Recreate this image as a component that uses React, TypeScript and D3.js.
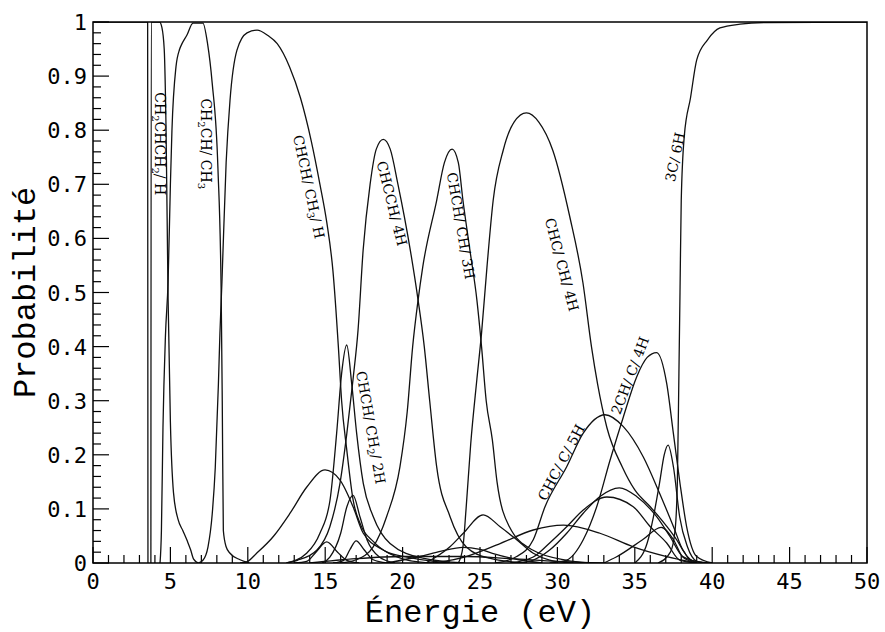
import React from "react";
import * as d3 from "d3";

// ---- Data (energy in eV, probability) ----
const parentC3H6: [number, number][] = [[0, 1], [3.53, 1], [3.55, 0]];
const ch2chch2H: [number, number][] = [[3.74, 0], [3.76, 1], [4.3, 1], [4.45, 0.99], [4.6, 0.95], [4.72, 0.8], [4.85, 0.49], [5.0, 0.26], [5.2, 0.13], [5.5, 0.08], [5.8, 0.06], [6.1, 0.04], [6.3, 0.025], [6.5, 0.007], [6.8, 0]];
const ch2chCh3: [number, number][] = [[4.33, 0], [4.42, 0.06], [4.52, 0.25], [4.68, 0.42], [4.85, 0.52], [5.0, 0.7], [5.1, 0.8], [5.36, 0.917], [5.6, 0.95], [5.75, 0.96], [6.07, 0.976], [6.46, 0.998], [7.1, 0.998], [7.4, 0.96], [7.7, 0.887], [8.07, 0.73], [8.28, 0.5], [8.35, 0.3], [8.42, 0.06], [8.6, 0.03], [8.85, 0.018], [9.5, 0.006], [10.1, 0]];
const chchCh3H: [number, number][] = [[6.8, 0], [7.1, 0.005], [7.43, 0.03], [7.7, 0.09], [7.9, 0.177], [8.1, 0.33], [8.2, 0.425], [8.33, 0.52], [8.6, 0.74], [8.85, 0.855], [9.3, 0.948], [9.95, 0.98], [10.6, 0.985], [11.3, 0.975], [11.9, 0.96], [12.7, 0.917], [13.4, 0.86], [14.1, 0.78], [14.66, 0.7], [15.1, 0.63], [15.5, 0.54], [15.85, 0.4], [16.06, 0.3], [16.39, 0.21], [16.8, 0.117], [17.3, 0.07], [18.1, 0.04], [19.0, 0.02], [20.3, 0.011], [22, 0.003], [23, 0]];
const chcchH4: [number, number][] = [[12.5, 0], [13.2, 0.005], [14.47, 0.024], [15.3, 0.067], [15.96, 0.148], [16.4, 0.24], [16.8, 0.34], [17.12, 0.43], [17.45, 0.578], [17.9, 0.7], [18.3, 0.765], [18.75, 0.783], [19.2, 0.765], [19.7, 0.7], [20.5, 0.578], [21.0, 0.486], [21.4, 0.4], [21.75, 0.3], [22.2, 0.178], [23.06, 0.086], [24.1, 0.03], [25.6, 0.009], [28, 0]];
const chchChH3: [number, number][] = [[16.0, 0], [17.0, 0.006], [18.1, 0.03], [18.97, 0.086], [19.83, 0.178], [20.3, 0.28], [20.65, 0.4], [21.0, 0.486], [21.3, 0.547], [22.2, 0.67], [22.7, 0.74], [23.2, 0.765], [23.6, 0.74], [23.9, 0.67], [24.35, 0.578], [24.8, 0.486], [25.1, 0.4], [25.4, 0.3], [25.8, 0.227], [26.1, 0.15], [26.9, 0.067], [28.4, 0.024], [30.6, 0.005], [32, 0]];
const chcChH4: [number, number][] = [[23.6, 0], [23.9, 0.03], [24.1, 0.1], [24.4, 0.22], [24.8, 0.34], [25.1, 0.425], [25.45, 0.547], [25.85, 0.67], [26.5, 0.763], [27.2, 0.815], [28.0, 0.832], [28.8, 0.815], [29.7, 0.763], [30.8, 0.64], [31.65, 0.518], [32.2, 0.4], [32.6, 0.33], [33.2, 0.25], [34.2, 0.177], [35.0, 0.135], [36.0, 0.104], [37.0, 0.07], [37.7, 0.043], [38.2, 0.02], [38.6, 0.005], [40, 0]];
const c3H6: [number, number][] = [[36.5, 0], [37.3, 0.02], [37.6, 0.06], [37.75, 0.15], [37.85, 0.35], [37.92, 0.5], [38.0, 0.67], [38.2, 0.79], [38.6, 0.86], [39.0, 0.93], [39.7, 0.967], [40.5, 0.989], [41.8, 0.996], [43.5, 0.999], [50, 1]];
const chchCh2H2: [number, number][] = [[12.5, 0], [13.8, 0.018], [14.66, 0.055], [15.31, 0.116], [15.74, 0.24], [16.06, 0.35], [16.39, 0.403], [16.71, 0.332], [17.03, 0.24], [17.46, 0.147], [18.1, 0.086], [19.19, 0.036], [21.3, 0.009], [24, 0]];
const bumpA: [number, number][] = [[9.5, 0], [9.93, 0.002], [10.57, 0.018], [11.65, 0.049], [12.73, 0.092], [13.8, 0.14], [14.99, 0.172], [15.96, 0.153], [16.8, 0.104], [17.46, 0.055], [18.75, 0.024], [20.3, 0.0055], [22, 0]];
const bumpB: [number, number][] = [[14.8, 0], [15.3, 0.011], [16.0, 0.055], [16.4, 0.104], [16.8, 0.125], [17.25, 0.085], [17.7, 0.043], [18.5, 0.011], [19.5, 0]];
const bumpC: [number, number][] = [[13.0, 0], [13.8, 0.003], [14.4, 0.02], [15.1, 0.039], [15.8, 0.02], [16.4, 0.005], [17.2, 0]];
const bumpD: [number, number][] = [[15.5, 0], [16.2, 0.005], [16.6, 0.025], [17.0, 0.041], [17.5, 0.025], [18.1, 0.006], [19, 0]];
const bumpE: [number, number][] = [[21.5, 0], [23.06, 0.03], [23.92, 0.055], [25.2, 0.089], [26.3, 0.067], [27.37, 0.043], [28.44, 0.018], [29.5, 0.0055], [31, 0]];
const bumpF: [number, number][] = [[19, 0], [21.1, 0.012], [22.5, 0.022], [23.9, 0.029], [25.0, 0.025], [25.8, 0.018], [27.5, 0.006], [29, 0]];
const bumpG: [number, number][] = [[22, 0], [24.1, 0.012], [26.3, 0.036], [28.44, 0.061], [30.4, 0.07], [32.75, 0.055], [34.9, 0.03], [37.06, 0.012], [39, 0]];
const chcC5H: [number, number][] = [[26, 0], [27.37, 0.012], [28.44, 0.043], [29.2, 0.104], [30.6, 0.178], [31.67, 0.24], [33.07, 0.274], [34.26, 0.252], [35.55, 0.196], [36.6, 0.129], [37.5, 0.067], [38.1, 0.024], [39, 0]];
const ch2C4H: [number, number][] = [[29.5, 0], [30.6, 0.0055], [31.67, 0.043], [32.54, 0.104], [33.4, 0.19], [34.26, 0.27], [35.12, 0.344], [35.8, 0.38], [36.41, 0.389], [37.06, 0.332], [37.49, 0.24], [37.92, 0.147], [38.35, 0.067], [39, 0.012], [40, 0]];
const bumpH: [number, number][] = [[35.0, 0], [35.8, 0.037], [36.2, 0.085], [36.6, 0.148], [36.9, 0.2], [37.15, 0.218], [37.5, 0.177], [37.9, 0.085], [38.4, 0.03], [39.0, 0.003], [39.5, 0]];
const bumpI: [number, number][] = [[27.5, 0], [28.44, 0.0055], [29.5, 0.024], [30.6, 0.055], [31.67, 0.092], [32.75, 0.123], [34.0, 0.139], [35.12, 0.123], [36.4, 0.086], [37.27, 0.049], [38.1, 0.012], [39.5, 0]];
const bumpJ: [number, number][] = [[27, 0], [28.44, 0.011], [29.5, 0.037], [30.6, 0.067], [31.67, 0.098], [33.2, 0.122], [34.9, 0.104], [36.0, 0.067], [37.06, 0.037], [37.9, 0.0055], [39, 0]];
const bumpK: [number, number][] = [[33.0, 0], [33.8, 0.011], [35.5, 0.043], [36.7, 0.066], [37.5, 0.043], [38.1, 0.011], [39, 0]];
const tailL: [number, number][] = [[14, 0], [17, 0.008], [20, 0.012], [24, 0.012], [27, 0.008], [30, 0.003], [33, 0]];

const allSeries = [parentC3H6, ch2chch2H, ch2chCh3, chchCh3H, chcchH4, chchChH3, chcChH4, c3H6, chchCh2H2, bumpA, bumpB, bumpC, bumpD, bumpE, bumpF, bumpG, chcC5H, ch2C4H, bumpH, bumpI, bumpJ, bumpK, tailL];

// label text parts: [text, isSubscript]
type Part = [string, boolean];
const labelTexts: Part[][] = [
  [["CH", false], ["2", true], ["CHCH", false], ["2", true], ["/ H", false]],
  [["CH", false], ["2", true], ["CH/ CH", false], ["3", true]],
  [["CHCH/ CH", false], ["3", true], ["/ H", false]],
  [["CHCCH/ 4H", false]],
  [["CHCH/ CH/ 3H", false]],
  [["CHC/ CH/ 4H", false]],
  [["CHCH/ CH", false], ["2", true], ["/ 2H", false]],
  [["CHC/ C/ 5H", false]],
  [["2CH/ C/ 4H", false]],
  [["3C/ 6H", false]],
];
// label anchor (E, p) and rotation
const labelE = [4.26, 7.24, 13.89, 19.25, 23.71, 30.23, 17.89, 30.3, 34.75, 37.66];
const labelP = [0.775, 0.775, 0.695, 0.664, 0.623, 0.551, 0.25, 0.185, 0.346, 0.75];
const labelRot = [90, 90, 78, 76, 80, 75, 80, -62, -69, -78];

const xTickLabels = [0, 5, 10, 15, 20, 25, 30, 35, 40, 45, 50];
const yTickLabels = [0, 0.1, 0.2, 0.3, 0.4, 0.5, 0.6, 0.7, 0.8, 0.9, 1];

export default function App() {
  const W = 885, H = 632;
  const x = d3.scaleLinear().domain([0, 50]).range([93, 867]);
  const y = d3.scaleLinear().domain([0, 1]).range([563, 22]);
  const line = d3
    .line<[number, number]>()
    .x((d) => x(d[0]))
    .y((d) => y(d[1]))
    .curve(d3.curveMonotoneX);

  const xMinor = d3.range(0, 51, 1);
  const yMinor = d3.range(0, 51, 1).map((v) => v / 50);

  return (
    <svg
      width={W}
      height={H}
      style={{ position: "absolute", left: 0, top: 0, background: "#fff" }}
    >
      <defs>
        <clipPath id="plot">
          <rect x={x(0)} y={y(1)} width={x(50) - x(0)} height={y(0) - y(1)} />
        </clipPath>
      </defs>
      <rect x={0} y={0} width={W} height={H} fill="#fff" />
      {/* ticks */}
      {xMinor.map((v) => (
        <line
          key={"xt" + v}
          x1={x(v)}
          x2={x(v)}
          y1={y(0)}
          y2={y(0) - (v % 5 === 0 ? 16 : 8)}
          stroke="#000"
          strokeWidth={1.2}
        />
      ))}
      {yMinor.map((v, i) => (
        <line
          key={"yt" + i}
          x1={x(0)}
          x2={x(0) + (i % 5 === 0 ? 16 : 8)}
          y1={y(v)}
          y2={y(v)}
          stroke="#000"
          strokeWidth={1.2}
        />
      ))}
      {/* curves */}
      <g clipPath="url(#plot)">
        {allSeries.map((s, i) => (
          <path
            key={"s" + i}
            d={line(s) || ""}
            fill="none"
            stroke="#111"
            strokeWidth={1.3}
          />
        ))}
      </g>
      {/* frame */}
      <rect
        x={x(0)}
        y={y(1)}
        width={x(50) - x(0)}
        height={y(0) - y(1)}
        fill="none"
        stroke="#000"
        strokeWidth={1.5}
      />
      {/* tick labels */}
      {xTickLabels.map((v) => (
        <text
          key={"xl" + v}
          x={x(v)}
          y={589}
          textAnchor="middle"
          fontFamily="DejaVu Sans Mono"
          fontSize={22}
          fill="#000"
        >
          {v}
        </text>
      ))}
      {yTickLabels.map((v) => (
        <text
          key={"yl" + v}
          x={87}
          y={y(v) + 8}
          textAnchor="end"
          fontFamily="DejaVu Sans Mono"
          fontSize={22}
          fill="#000"
        >
          {String(v)}
        </text>
      ))}
      {/* axis titles */}
      <text
        x={(x(0) + x(50)) / 2}
        y={622}
        textAnchor="middle"
        fontFamily="Liberation Mono"
        fontSize={32}
        fill="#000"
      >
        Énergie (eV)
      </text>
      <text
        transform={`translate(35, ${(y(0) + y(1)) / 2}) rotate(-90)`}
        textAnchor="middle"
        fontFamily="Liberation Mono"
        fontSize={32}
        fill="#000"
      >
        Probabilité
      </text>
      {/* curve labels */}
      {labelTexts.map((parts, i) => (
        <text
          key={"lab" + i}
          transform={`translate(${x(labelE[i])}, ${y(labelP[i])}) rotate(${labelRot[i]})`}
          textAnchor="middle"
          dominantBaseline="middle"
          fontFamily="DejaVu Serif"
          fontSize={14}
          fill="#000"
        >
          {parts.map((p, j) =>
            p[1] ? (
              <tspan key={j} fontSize={10} dy={4}>
                {p[0]}
              </tspan>
            ) : (
              <tspan key={j} dy={j > 0 && parts[j - 1][1] ? -4 : 0}>
                {p[0]}
              </tspan>
            )
          )}
        </text>
      ))}
    </svg>
  );
}
